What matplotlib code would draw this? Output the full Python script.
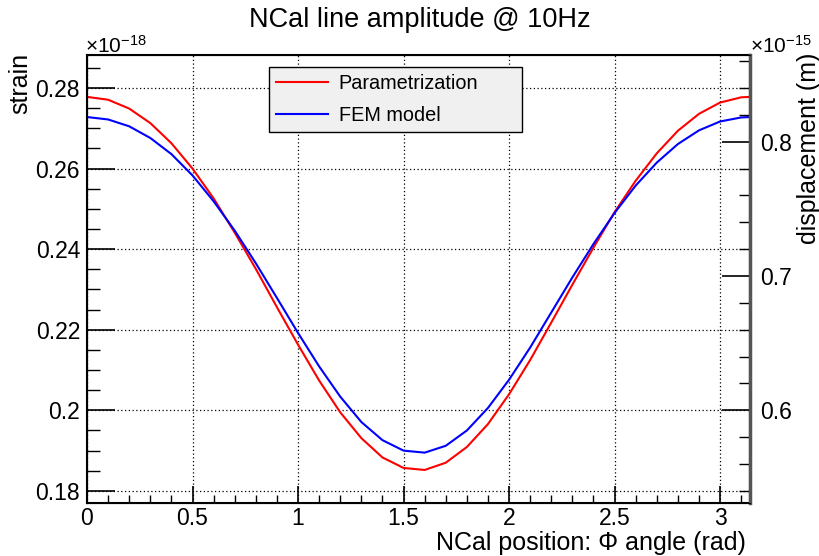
import numpy as np
import matplotlib
matplotlib.use("Agg")
import matplotlib.pyplot as plt
from matplotlib.ticker import MultipleLocator

plt.rcParams['font.family'] = ['Liberation Sans', 'DejaVu Sans']
plt.rcParams['mathtext.fontset'] = 'custom'
plt.rcParams['mathtext.rm'] = 'Liberation Sans'
plt.rcParams['mathtext.it'] = 'Liberation Sans:italic'
plt.rcParams['mathtext.bf'] = 'Liberation Sans:bold'

# NCal angle (rad)
phi = [0.0, 0.1, 0.2, 0.3, 0.4, 0.5, 0.6, 0.7, 0.8, 0.9, 1.0, 1.1, 1.2, 1.3,
       1.4, 1.5, 1.6, 1.7, 1.8, 1.9, 2.0, 2.1, 2.2, 2.3, 2.4, 2.5, 2.6, 2.7,
       2.8, 2.9, 3.0, 3.1, np.pi]
# strain amplitude in units of 1e-18
param = [0.2778, 0.2771, 0.2749, 0.2713, 0.2663, 0.2600, 0.2526, 0.2441,
         0.2351, 0.2256, 0.2163, 0.2074, 0.1995, 0.1931, 0.1883, 0.1857,
         0.1852, 0.1870, 0.1909, 0.1966, 0.2040, 0.2125, 0.2218, 0.2312,
         0.2404, 0.2492, 0.2570, 0.2638, 0.2694, 0.2736, 0.2764, 0.2777,
         0.2778]
fem = [0.2728, 0.2722, 0.2705, 0.2676, 0.2636, 0.2583, 0.2519, 0.2446,
       0.2365, 0.2279, 0.2192, 0.2109, 0.2034, 0.1971, 0.1926, 0.1900,
       0.1895, 0.1912, 0.1950, 0.2006, 0.2076, 0.2156, 0.2243, 0.2330,
       0.2413, 0.2490, 0.2558, 0.2615, 0.2661, 0.2695, 0.2717, 0.2727,
       0.2728]
arm = 3.0  # displacement / strain scale (1e-15 m per 1e-18)

fig = plt.figure(figsize=(8.2, 5.56), dpi=100)
ax = fig.add_axes([87/820, 1-503/556, (750-87)/820, (503-55)/556])

ax.plot(phi, param, color='#ff0000', lw=1.5, label='Parametrization')
ax.plot(phi, fem, color='#0000ff', lw=1.5, label='FEM model')

ax.set_xlim(0, np.pi)
ax.set_ylim(0.177, 0.2882)
ax.xaxis.set_minor_locator(MultipleLocator(0.1))
ax.yaxis.set_minor_locator(MultipleLocator(0.005))
ax.set_xticks([0, 0.5, 1, 1.5, 2, 2.5, 3])
ax.set_xticklabels(['0', '0.5', '1', '1.5', '2', '2.5', '3'])
ax.set_yticks([0.18, 0.2, 0.22, 0.24, 0.26, 0.28])
ax.set_yticklabels(['0.18', '0.2', '0.22', '0.24', '0.26', '0.28'])
ax.tick_params(axis='x', which='major', direction='in', length=12, width=1.2,
               labelsize=16.5, pad=3, top=False)
ax.tick_params(axis='x', which='minor', direction='in', length=6, width=1.0, top=False)
ax.tick_params(axis='y', which='major', direction='in', length=20, width=1.2,
               labelsize=16.5, pad=5, right=False)
ax.tick_params(axis='y', which='minor', direction='in', length=9, width=1.0, right=False)
ax.grid(True, which='major', color='black', linestyle=(0, (1, 2)), linewidth=0.9)
for s in ax.spines.values():
    s.set_linewidth(1.5)

# right axis: displacement
ax2 = ax.twinx()
ax2.set_ylim(0.177*arm, 0.2882*arm)
ax2.yaxis.set_minor_locator(MultipleLocator(0.02))
ax2.set_yticks([0.6, 0.7, 0.8])
ax2.set_yticklabels(['0.6', '0.7', '0.8'])
ax2.tick_params(axis='y', which='major', direction='in', length=20, width=1.2,
                labelsize=16.5, pad=7)
ax2.tick_params(axis='y', which='minor', direction='in', length=8, width=1.0)
ax2.spines['right'].set_linewidth(2.5)
ax2.spines['right'].set_color('#555555')

fig.text(85/820, 1-53/556, r'$\times$10$^{-18}$', fontsize=15, ha='left', va='baseline')
fig.text(750/820, 1-53/556, r'$\times$10$^{-15}$', fontsize=15, ha='left', va='baseline')

fig.text(420/820, 1-27/556, 'NCal line amplitude @ 10Hz', fontsize=19.5,
         ha='center', va='baseline')
fig.text(746/820, 1-550/556, 'NCal position: Φ angle (rad)', fontsize=18,
         ha='right', va='baseline')
fig.text(8/820, 1-53/556, 'strain', fontsize=18, rotation=90, ha='left', va='top')
fig.text(797/820, 1-53/556, 'displacement (m)', fontsize=18, rotation=90,
         ha='left', va='top')

leg = ax.legend(loc='upper left', mode='expand',
                bbox_to_anchor=(269/820, 1-133/556, 253/820, 66/556),
                bbox_transform=fig.transFigure, fontsize=14.3, frameon=True,
                fancybox=False, edgecolor='black', facecolor='#f0f0f0',
                framealpha=1, handlelength=2.6, handletextpad=0.55,
                borderaxespad=0, borderpad=0.35, labelspacing=0.65)
leg.get_frame().set_linewidth(1.0)

fig.savefig('out.png', dpi=100)
